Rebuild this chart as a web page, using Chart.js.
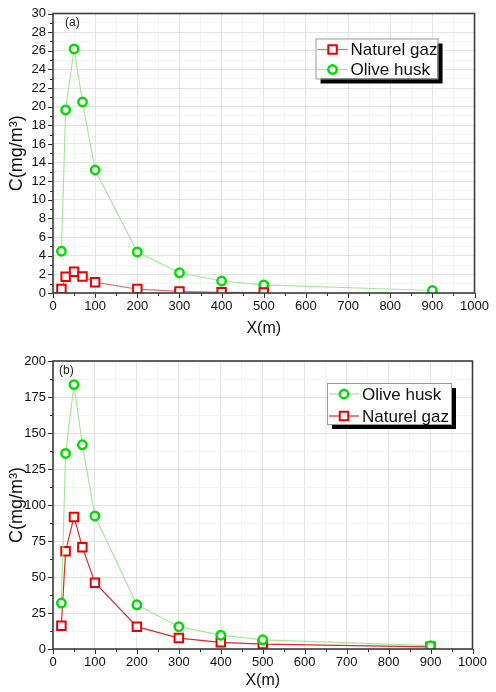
<!DOCTYPE html>
<html>
<head>
<meta charset="utf-8">
<script src="https://cdn.jsdelivr.net/npm/chart.js@4.4.1/dist/chart.umd.min.js"></script>
<style>
  body { margin: 0; background: #fff; }
  canvas { position: absolute; left: 0; }
  #chartA { top: 0; }
  #chartB { top: 340px; }
</style>
</head>
<body>
<canvas id="chartA" width="496" height="340"></canvas>
<canvas id="chartB" width="496" height="352"></canvas>
<script>
// distances (m)
const distances = [20, 30, 50, 70, 100, 200, 300, 400, 500, 900];

// panel (a)
const gasA = [0.42, 1.75, 2.27, 1.78, 1.15, 0.42, 0.17, 0.07, 0.05];
const oliveA = [4.48, 19.65, 26.2, 20.5, 13.2, 4.4, 2.17, 1.29, 0.87, 0.27];

// panel (b)
const oliveB = [31.9, 135.8, 183.6, 141.8, 92.4, 30.7, 15.5, 9.6, 6.4, 2.3];
const gasB = [16.2, 67.9, 91.7, 70.7, 46, 15.5, 7.6, 4.6, 3.4, 1.5];

// tick labels
const xTickLabels = [0, 100, 200, 300, 400, 500, 600, 700, 800, 900, 1000];
const yTickLabelsA = [0, 2, 4, 6, 8, 10, 12, 14, 16, 18, 20, 22, 24, 26, 28, 30];
const yTickLabelsB = [0, 25, 50, 75, 100, 125, 150, 175, 200];

const FONT = "'Liberation Sans', Arial, sans-serif";

function points(ys) {
  return ys.map((y, i) => ({ x: distances[i], y: y }));
}

function gasSet(ys, lineColor) {
  return {
    label: 'Naturel gaz',
    data: points(ys),
    borderColor: lineColor,
    borderWidth: 1.2,
    pointStyle: 'rect',
    pointRadius: 6,
    pointBorderWidth: 2,
    pointBorderColor: '#ee0000',
    pointBackgroundColor: '#ffffff',
    markerColor: '#ee0000'
  };
}

function oliveSet(ys) {
  return {
    label: 'Olive husk',
    data: points(ys),
    borderColor: '#a8e6a0',
    borderWidth: 1.2,
    pointStyle: 'circle',
    pointRadius: 4.2,
    pointBorderWidth: 2.5,
    pointBorderColor: '#00dd00',
    pointBackgroundColor: '#ffffff',
    markerColor: '#00dd00'
  };
}

// frame, minor ticks, panel tag and boxed legend with shadow
const decor = {
  id: 'decor',
  afterDraw(chart, args, opts) {
    const { ctx, chartArea: a, scales } = chart;
    const xs = scales.x, ys = scales.y;
    ctx.save();

    ctx.strokeStyle = '#333';
    ctx.lineWidth = 1;
    ctx.beginPath();
    xs.ticks.forEach(t => {
      const px = Math.round(xs.getPixelForValue(t.value)) + 0.5;
      const len = xTickLabels.includes(t.value) ? 5 : 3;
      ctx.moveTo(px, a.bottom);
      ctx.lineTo(px, a.bottom + len);
    });
    ys.ticks.forEach(t => {
      const py = Math.round(ys.getPixelForValue(t.value)) + 0.5;
      const len = opts.yMajor.includes(t.value) ? 5 : 3;
      ctx.moveTo(a.left, py);
      ctx.lineTo(a.left - len, py);
    });
    ctx.stroke();

    ctx.strokeStyle = '#3c3c3c';
    ctx.lineWidth = 1.6;
    ctx.strokeRect(a.left, a.top, a.right - a.left, a.bottom - a.top);

    ctx.fillStyle = '#222';
    ctx.font = '12px ' + FONT;
    ctx.textBaseline = 'middle';
    ctx.textAlign = 'left';
    ctx.fillText(opts.tag, a.left + opts.tagDx, a.top + opts.tagDy);

    // legend
    const L = opts.legend;
    const bx = a.right - L.right - L.width;
    const by = a.top + L.top;
    ctx.fillStyle = '#000';
    ctx.fillRect(bx + 5, by + 5, L.width, L.height);
    ctx.fillStyle = '#fff';
    ctx.fillRect(bx, by, L.width, L.height);
    ctx.strokeStyle = '#9a9a9a';
    ctx.lineWidth = 1;
    ctx.strokeRect(bx + 0.5, by + 0.5, L.width, L.height);

    ctx.font = '17px ' + FONT;
    L.order.forEach((di, row) => {
      const ds = chart.data.datasets[di];
      const cy = by + L.rows[row];
      ctx.strokeStyle = ds.borderColor;
      ctx.lineWidth = ds.borderWidth;
      ctx.beginPath();
      ctx.moveTo(bx + 2, cy);
      ctx.lineTo(bx + 32, cy);
      ctx.stroke();
      ctx.fillStyle = '#fff';
      ctx.strokeStyle = ds.markerColor;
      ctx.lineWidth = ds.pointBorderWidth;
      Chart.helpers.drawPoint(ctx, {
        pointStyle: ds.pointStyle,
        radius: ds.pointRadius,
        borderWidth: ds.pointBorderWidth,
        rotation: 0
      }, bx + 17, cy);
      ctx.fillStyle = '#111';
      ctx.fillText(ds.label, bx + 35, cy + 1);
    });
    ctx.restore();
  }
};

function makeChart(id, datasets, cfg) {
  return new Chart(document.getElementById(id), {
    type: 'line',
    data: { datasets: datasets },
    plugins: [decor],
    options: {
      responsive: false,
      animation: false,
      layout: { padding: cfg.padding },
      plugins: {
        legend: { display: false },
        tooltip: { enabled: false },
        decor: cfg.decor
      },
      elements: { line: { tension: 0 } },
      scales: {
        x: {
          type: 'linear',
          min: 0,
          max: 1000,
          afterFit: s => { s.height = cfg.xHeight; },
          afterBuildTicks: s => {
            s.ticks = [];
            for (let v = 0; v <= 1000; v += 50) s.ticks.push({ value: v });
          },
          border: { display: false },
          grid: {
            drawTicks: false,
            color: c => xTickLabels.includes(c.tick.value) ? '#e4e4e4' : '#f4f4f4',
            lineWidth: 1
          },
          ticks: {
            autoSkip: false,
            maxRotation: 0,
            padding: 7,
            color: '#111',
            font: { family: FONT, size: 13, lineHeight: 1 },
            callback: v => xTickLabels.includes(v) ? String(v) : ''
          },
          title: {
            display: true,
            text: 'X(m)',
            color: '#111',
            font: { family: FONT, size: 16 },
            padding: { top: 0, bottom: 2 }
          }
        },
        y: {
          min: 0,
          max: cfg.yMax,
          afterFit: s => { s.width = 53; },
          afterBuildTicks: s => {
            s.ticks = [];
            for (let v = 0; v <= cfg.yMax + 1e-9; v += cfg.yMinor) s.ticks.push({ value: v });
          },
          border: { display: false },
          grid: {
            drawTicks: false,
            color: c => cfg.yMajor.includes(c.tick.value) ? '#e4e4e4' : '#f4f4f4',
            lineWidth: 1
          },
          ticks: {
            autoSkip: false,
            padding: 7,
            color: '#111',
            font: { family: FONT, size: 13, lineHeight: 1 },
            callback: v => cfg.yMajor.includes(v) ? String(v) : ''
          },
          title: {
            display: true,
            text: 'C(mg/m³)',
            color: '#111',
            font: { family: FONT, size: 18 },
            padding: { top: 6, bottom: 0 }
          }
        }
      }
    }
  });
}

makeChart('chartA', [gasSet(gasA, '#e07070'), oliveSet(oliveA)], {
  padding: { top: 7, right: 16, bottom: 0, left: 0 },
  xHeight: 47,
  yMax: 30,
  yMinor: 1,
  yMajor: yTickLabelsA,
  decor: {
    tag: '(a)',
    tagDx: 12,
    tagDy: 9,
    yMajor: yTickLabelsA,
    legend: { right: 37, top: 25, width: 122, height: 40, rows: [11, 31], order: [0, 1] }
  }
});

makeChart('chartB', [oliveSet(oliveB), gasSet(gasB, '#dd2a2a')], {
  padding: { top: 21, right: 23.5, bottom: 0, left: 0 },
  xHeight: 43,
  yMax: 200,
  yMinor: 12.5,
  yMajor: yTickLabelsB,
  decor: {
    tag: '(b)',
    tagDx: 6,
    tagDy: 10,
    yMajor: yTickLabelsB,
    legend: { right: 21.5, top: 22, width: 124, height: 41, rows: [11, 33], order: [0, 1] }
  }
});
</script>
</body>
</html>
